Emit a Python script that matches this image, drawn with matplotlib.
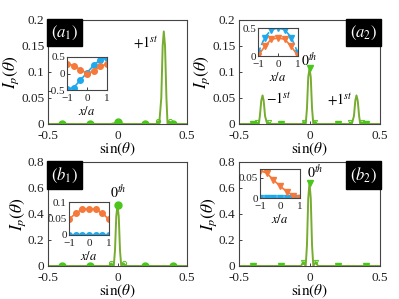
import numpy as np
import matplotlib
matplotlib.use("Agg")
import matplotlib.pyplot as plt

plt.rcParams['font.family'] = ['Liberation Serif', 'DejaVu Serif']
plt.rcParams['mathtext.fontset'] = 'stix'

green = '#77ac30'
mgreen = '#4cc51c'
orange = '#f5793a'
blue = '#1ea9ef'

# main curves
a1_x = [-0.5, -0.05, -0.03, 0.0, 0.03, 0.05, 0.28, 0.29, 0.30, 0.315, 0.325, 0.333, 0.342, 0.352, 0.36, 0.375, 0.39, 0.5]
a1_y = [0, 0, 0.001, 0.003, 0.001, 0, 0, 0.005, 0, 0.05, 0.15, 0.178, 0.15, 0.05, 0, 0.005, 0, 0]
a2_x = [-0.5, -0.39, -0.375, -0.36, -0.352, -0.342, -0.333, -0.325, -0.315, -0.30, -0.29, -0.28,
        -0.05, -0.04, -0.027, -0.018, -0.009, 0.0, 0.009, 0.018, 0.027, 0.04, 0.05,
        0.28, 0.29, 0.30, 0.315, 0.325, 0.333, 0.342, 0.352, 0.36, 0.375, 0.39, 0.5]
a2_y = [0, 0, 0.003, 0, 0.015, 0.045, 0.055, 0.045, 0.015, 0, 0.003, 0,
        0, 0.004, 0, 0.03, 0.09, 0.107, 0.09, 0.03, 0, 0.004, 0,
        0, 0.003, 0, 0.015, 0.045, 0.055, 0.045, 0.015, 0, 0.003, 0, 0]
b1_x = [-0.5, -0.06, -0.045, -0.027, -0.018, -0.009, 0.0, 0.009, 0.018, 0.027, 0.045, 0.06, 0.5]
b1_y = [0, 0, 0.02, 0, 0.12, 0.38, 0.47, 0.38, 0.12, 0, 0.02, 0, 0]
b2_x = [-0.5, -0.06, -0.045, -0.027, -0.018, -0.009, 0.0, 0.009, 0.018, 0.027, 0.045, 0.06, 0.5]
b2_y = [0, 0, 0.03, 0, 0.16, 0.52, 0.64, 0.52, 0.16, 0, 0.03, 0, 0]

# sampled markers
mk_x = [-0.4, -0.2, 0.0, 0.2, 0.4]
a1_mk = [0, 0, 0.003, 0, 0]
a2_mk = [0, 0, 0.107, 0, 0]
b1_mk = [0, 0, 0.47, 0, 0]
b2_mk = [0, 0, 0.64, 0, 0]
a1_side_x = [0.29, 0.375]
a1_side_y = [0.005, 0.005]
a2_side_x = [-0.375, -0.29, -0.04, 0.04, 0.29, 0.375]
a2_side_y = [0.003, 0.003, 0.004, 0.004, 0.003, 0.003]
b_side_x = [-0.045, 0.045]
b1_side_y = [0.02, 0.02]
b2_side_y = [0.03, 0.03]

# insets
xa = [-1, -2/3, -1/3, 0, 1/3, 2/3, 1]
a1_blue = [-0.47, -0.43, -0.2, 0.02, 0.25, 0.42, 0.47]
a1_orange = [0.3, 0.24, 0.12, 0.0, 0.07, 0.22, 0.29]
a2_blue = [0.05, 0.33, 0.47, 0.5, 0.47, 0.33, 0.05]
a2_orange = [0.0, 0.17, 0.3, 0.32, 0.3, 0.17, 0.0]
b1_blue = [0, 0, 0, 0, 0, 0, 0]
b1_orange = [0.047, 0.066, 0.078, 0.079, 0.078, 0.066, 0.047]
b2_blue = [0, 0, 0, 0, 0, 0, 0]
b2_orange = [0.068, 0.062, 0.045, 0.03, 0.016, 0.006, 0.001]

fig = plt.figure(figsize=(3.99, 2.99), dpi=100)
W, H = 399.0, 299.0


def box(l, t, r, b):
    return [l / W, 1 - b / H, (r - l) / W, (b - t) / H]


def style(ax, fs, xpad, ypad):
    ax.tick_params(direction='in', labelsize=fs, length=2.5, width=0.6, colors='#222222')
    ax.tick_params(axis='x', pad=xpad)
    ax.tick_params(axis='y', pad=ypad)
    for s in ax.spines.values():
        s.set_linewidth(0.8)
        s.set_color('#444444')


def panel(pos, x, y, mk, marker, sx, sy, ymax, yticks, ylabels, label, left):
    ax = fig.add_axes(box(*pos))
    ax.plot(x, y, color=green, lw=1.4)
    ax.plot(sx, sy, ls='none', marker=marker, ms=3, mfc='none', mec=mgreen, mew=0.7)
    ax.plot(mk_x, mk, ls='none', marker=marker, ms=5, color=mgreen)
    ax.set_xlim(-0.5, 0.5)
    ax.set_ylim(0, ymax)
    ax.set_xticks([-0.5, 0, 0.5])
    ax.set_xticklabels(['-0.5', '0', '0.5'])
    ax.set_yticks(yticks)
    ax.set_yticklabels(ylabels)
    style(ax, 9.5, 4.5, 2.5)
    ax.set_xlabel(r'$\sin(\theta)$', fontsize=11, labelpad=-1)
    ax.set_ylabel(r'$I_p(\theta)$', fontsize=12.5, labelpad=0)
    bb = dict(boxstyle='square,pad=0.25', fc='black', ec='black')
    if left:
        ax.text(0.02, 0.965, label, transform=ax.transAxes, ha='left', va='top', color='white',
                fontsize=12, bbox=bb)
    else:
        ax.text(0.98, 0.965, label, transform=ax.transAxes, ha='right', va='top', color='white',
                fontsize=12, bbox=bb)
    return ax


def inset(pos, blue_y, orange_y, marker, ls, ylim, yticks, ylabels):
    ax = fig.add_axes(box(*pos))
    ax.plot(xa, blue_y, color=blue, ls=ls, marker=marker, ms=4, lw=1.2)
    ax.plot(xa, orange_y, color=orange, ls='-', marker=marker, ms=4, lw=1.2)
    ax.set_xlim(-1, 1)
    ax.set_ylim(*ylim)
    ax.set_xticks([-1, 0, 1])
    ax.set_yticks(yticks)
    ax.set_yticklabels(ylabels)
    style(ax, 8, 3, 1.5)
    ax.set_xlabel(r'$x/a$', fontsize=9, labelpad=1)
    return ax


ax1 = panel((48, 20, 187, 124), a1_x, a1_y, a1_mk, 'o', a1_side_x, a1_side_y, 0.2,
            [0, 0.05, 0.1, 0.15, 0.2], ['0', '0.05', '0.1', '0.15', '0.2'], r'$(a_1)$', True)
ax1.text(0.2, 0.158, r'$+1^{st}$', ha='center', va='center', fontsize=10)
inset((67, 57, 107, 90), a1_blue, a1_orange, 'o', '-', (-0.5, 0.5), [-0.5, 0, 0.5], ['-0.5', '0', '0.5'])

ax2 = panel((239, 20, 380, 124), a2_x, a2_y, a2_mk, 'v', a2_side_x, a2_side_y, 0.2,
            [0, 0.05, 0.1, 0.15, 0.2], ['0', '0.05', '0.1', '0.15', '0.2'], r'$(a_2)$', False)
ax2.text(0.0, 0.123, r'$0^{th}$', ha='center', va='center', fontsize=10)
ax2.text(-0.22, 0.048, r'$-1^{st}$', ha='center', va='center', fontsize=10)
ax2.text(0.215, 0.048, r'$+1^{st}$', ha='center', va='center', fontsize=10)
inset((258, 28, 298, 56), a2_blue, a2_orange, 'v', '--', (0, 0.5), [0, 0.5], ['0', '0.5'])

ax3 = panel((48, 162, 187, 266), b1_x, b1_y, b1_mk, 'o', b_side_x, b1_side_y, 0.8,
            [0, 0.2, 0.4, 0.6, 0.8], ['0', '0.2', '0.4', '0.6', '0.8'], r'$(b_1)$', True)
ax3.text(0.005, 0.57, r'$0^{th}$', ha='center', va='center', fontsize=10)
inset((69, 202, 109, 235), b1_blue, b1_orange, 'o', '-', (0, 0.1), [0, 0.05, 0.1], ['0', '0.05', '0.1'])

ax4 = panel((239, 162, 380, 266), b2_x, b2_y, b2_mk, 'v', b_side_x, b2_side_y, 0.8,
            [0, 0.2, 0.4, 0.6, 0.8], ['0', '0.2', '0.4', '0.6', '0.8'], r'$(b_2)$', False)
ax4.text(0.04, 0.72, r'$0^{th}$', ha='center', va='center', fontsize=10)
inset((260, 169, 300, 198), b2_blue, b2_orange, 'v', '-', (0, 0.072), [0, 0.05], ['0', '0.05'])

fig.savefig('out.png', dpi=100)
